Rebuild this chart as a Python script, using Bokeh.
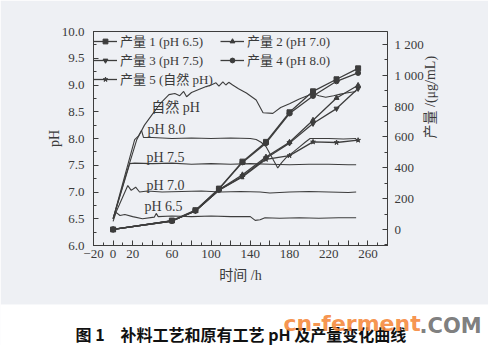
import math
from bokeh.plotting import figure
from bokeh.models import (Range1d, LinearAxis, FixedTicker, Legend, LegendItem,
                          Label, Title)
from bokeh.embed import file_html
from bokeh.resources import INLINE

# ---------------- data ----------------
hours = [0, 60, 84, 108, 132, 156, 180, 204, 228, 250]
yield_1 = [0, 58, 125, 265, 440, 568, 760, 896, 974, 1045]
yield_2 = [0, 55, 120, 258, 355, 470, 566, 709, 853, 935]
yield_3 = [0, 55, 120, 255, 345, 462, 560, 687, 784, 914]
yield_4 = [0, 55, 122, 262, 435, 560, 752, 866, 961, 1015]
yield_5 = [0, 55, 120, 255, 340, 455, 479, 568, 564, 579]
yield_names = ["产量 1 (pH 6.5)", "产量 2 (pH 7.0)", "产量 3 (pH 7.5)",
               "产量 4 (pH 8.0)", "产量 5 (自然 pH)"]

t_nat = [0, 12, 24, 32, 40, 48, 57, 63, 68, 72, 75, 80, 88, 95, 100, 105, 108,
         112, 115, 118, 122, 128, 136, 146, 153, 163, 171, 180, 190, 204, 210,
         217, 225, 232, 238, 248]
ph_nat = [6.5, 7.25, 7.97, 8.25, 8.45, 8.65, 8.82, 8.84, 8.8, 8.88, 8.78, 8.86,
          8.92, 8.97, 9.0, 9.04, 8.98, 9.06, 9.0, 9.05, 9.0, 8.93, 8.85, 8.72,
          8.48, 8.47, 8.58, 8.65, 8.74, 8.84, 8.8, 8.77, 8.8, 8.83, 8.85, 8.88]

t_80 = [0, 22, 26, 29, 31, 40, 60, 80, 100, 120, 140, 146, 151, 156, 162, 168,
        172, 177, 184, 190, 196, 201, 220, 235, 248]
ph_80 = [6.5, 7.98, 8.05, 8.15, 8.02, 8.02, 8.0, 8.01, 8.0, 8.01, 8.0, 7.98,
         7.93, 7.85, 7.65, 7.45, 7.55, 7.65, 7.75, 7.84, 7.93, 8.0, 8.0, 7.99, 8.0]

t_75 = [0, 17, 22, 40, 60, 80, 100, 120, 140, 160, 180, 200, 220, 240, 248]
ph_75 = [6.5, 7.53, 7.54, 7.53, 7.54, 7.52, 7.53, 7.52, 7.53, 7.52, 7.51, 7.52,
         7.52, 7.51, 7.51]

t_70 = [0, 15, 18.5, 23, 27, 35, 50, 70, 90, 110, 130, 150, 160, 180, 200, 220,
        240, 248]
ph_70 = [6.5, 7.12, 7.03, 7.09, 7.0, 7.02, 7.0, 7.01, 7.02, 7.0, 7.01, 7.0, 6.98,
         7.0, 7.01, 7.0, 6.99, 7.0]

t_65 = [0, 3, 7, 12, 20, 30, 42, 44, 46, 60, 80, 100, 120, 140, 145, 150, 155,
        170, 190, 210, 230, 248]
ph_65 = [6.45, 6.62, 6.56, 6.58, 6.54, 6.5, 6.53, 6.6, 6.54, 6.55, 6.54, 6.55,
         6.54, 6.54, 6.47, 6.48, 6.52, 6.51, 6.52, 6.51, 6.52, 6.52]

x_ticks = [-20, 0, 20, 40, 60, 80, 100, 120, 140, 160, 180, 200, 220, 240, 260]
x_hidden = [40, 80, 120, 160, 200, 240]
ph_ticks = [6.0, 6.5, 7.0, 7.5, 8.0, 8.5, 9.0, 9.5, 10.0]
yield_ticks = [0, 200, 400, 600, 800, 1000, 1200]
yield_tick_labels = ["0", "200", "400", "600", "800", "1 000", "1 200"]

yield_axis_title = "产量 /(μg/mL)"
caption = "图 1　补料工艺和原有工艺 pH 及产量变化曲线"

# ---------------- style ----------------
SERIF = "Liberation Serif, Noto Sans CJK SC"
TXT = "#3a3a3a"
LINE = "#3d3d3d"
BG = "#eef0f4"
Y2_START, Y2_END = -104, 1284

p = figure(width=488, height=345, output_backend="svg", toolbar_location=None,
           x_range=Range1d(-20, 280), y_range=Range1d(6.0, 10.0),
           min_border_left=93, min_border_right=101, min_border_top=31,
           min_border_bottom=100)
p.extra_y_ranges = {"yield": Range1d(Y2_START, Y2_END)}
p.border_fill_color = BG
p.background_fill_color = BG
p.outline_line_color = LINE
p.xgrid.visible = False
p.ygrid.visible = False


def style_axis(ax):
    ax.axis_line_color = LINE
    ax.major_tick_line_color = LINE
    ax.minor_tick_line_color = LINE
    ax.major_tick_in = 5
    ax.major_tick_out = 0
    ax.minor_tick_in = 3
    ax.minor_tick_out = 0
    ax.major_label_text_font = SERIF
    ax.major_label_text_font_size = "13px"
    ax.major_label_text_color = TXT
    ax.axis_label_text_font = SERIF
    ax.axis_label_text_font_size = "14px"
    ax.axis_label_text_font_style = "normal"
    ax.axis_label_text_color = TXT


xa = p.xaxis[0]
xa.ticker = FixedTicker(ticks=x_ticks, minor_ticks=list(range(-20, 281, 10)))
xa.major_label_overrides = {v: "" for v in x_hidden}
xa.axis_label = "时间 /h"
style_axis(xa)
xa.major_label_standoff = 4
xa.axis_label_standoff = 7

ya = p.yaxis[0]
ya.ticker = FixedTicker(ticks=ph_ticks,
                        minor_ticks=[6.0 + 0.25 * i for i in range(17)])
ya.major_label_overrides = {v: f"{v:.1f}" for v in ph_ticks}
ya.axis_label = "pH"
style_axis(ya)
ya.major_label_standoff = 9
ya.axis_label_standoff = -3

ra = LinearAxis(y_range_name="yield",
                ticker=FixedTicker(ticks=yield_ticks,
                                   minor_ticks=list(range(-100, 1281, 100))))
ra.major_label_overrides = dict(zip(yield_ticks, yield_tick_labels))
style_axis(ra)
ra.major_label_standoff = 7
p.add_layout(ra, "right")

# right-hand title, written bottom-to-top like the reference
mid = (Y2_START + Y2_END) / 2
rl = LinearAxis(y_range_name="yield", ticker=FixedTicker(ticks=[mid]),
                major_label_overrides={mid: yield_axis_title},
                major_label_orientation=math.pi / 2)
style_axis(rl)
rl.axis_line_color = None
rl.major_tick_line_color = None
rl.minor_tick_line_color = None
rl.major_label_text_font_size = "14px"
rl.major_label_standoff = 4
p.add_layout(rl, "right")

# ---------------- pH curves ----------------
for t, ph in [(t_nat, ph_nat), (t_80, ph_80), (t_75, ph_75), (t_70, ph_70),
              (t_65, ph_65)]:
    p.line(t, ph, line_color=LINE, line_width=1.1)

# ---------------- yield curves ----------------
markers = ["square", "triangle", "inverted_triangle", "circle", "star"]
items = []
for name, ys, mk in zip(yield_names, [yield_1, yield_2, yield_3, yield_4, yield_5],
                        markers):
    lr = p.line(hours, ys, y_range_name="yield", line_color=LINE, line_width=1.3)
    sr = p.scatter(hours, ys, y_range_name="yield", marker=mk, size=5,
                   fill_color=LINE, line_color=LINE)
    items.append(LegendItem(label=name, renderers=[lr, sr]))

legend = Legend(items=items, location="top_left", orientation="horizontal",
                ncols=2, margin=0, padding=1, spacing=-8, glyph_width=24,
                glyph_height=12, label_height=12, label_width=100,
                label_standoff=3, label_text_font=SERIF,
                label_text_font_size="13px", label_text_color=TXT,
                border_line_color=None, background_fill_alpha=0)
p.add_layout(legend)

# ---------------- curve labels ----------------
for x, y, txt in [(39, 8.58, "自然 pH"), (35, 8.16, "pH 8.0"), (34, 7.64, "pH 7.5"),
                  (34, 7.12, "pH 7.0"), (32, 6.73, "pH 6.5")]:
    p.add_layout(Label(x=x, y=y, text=txt, text_baseline="middle",
                       text_font=SERIF, text_font_size="14px", text_color=TXT))

# ---------------- white caption strip, caption & watermark ----------------
p.add_layout(Title(text="\u3000" * 18, align="left", offset=-93, standoff=-126,
                   vertical_align="bottom", text_font="Noto Sans CJK SC",
                   text_font_size="30px", text_color="white",
                   background_fill_color="white"), "below")
p.add_layout(Title(text=caption, align="left", offset=-18, standoff=-120,
                   vertical_align="bottom", text_font="Noto Sans CJK SC",
                   text_font_size="16px", text_font_style="bold",
                   text_color="#111111"), "below")
p.add_layout(Title(text="cn-ferment", align="left", offset=190, standoff=-100,
                   vertical_align="bottom", text_font="DejaVu Sans",
                   text_font_size="22px", text_font_style="bold",
                   text_color="#f5873a", text_alpha=0.9), "below")
p.add_layout(Title(text=".COM", align="left", offset=326, standoff=-104,
                   vertical_align="bottom", text_font="DejaVu Sans",
                   text_font_size="21px", text_font_style="bold",
                   text_color="#6e6e6e", text_alpha=0.9), "below")

open("out.html", "w").write(file_html(p, INLINE))
